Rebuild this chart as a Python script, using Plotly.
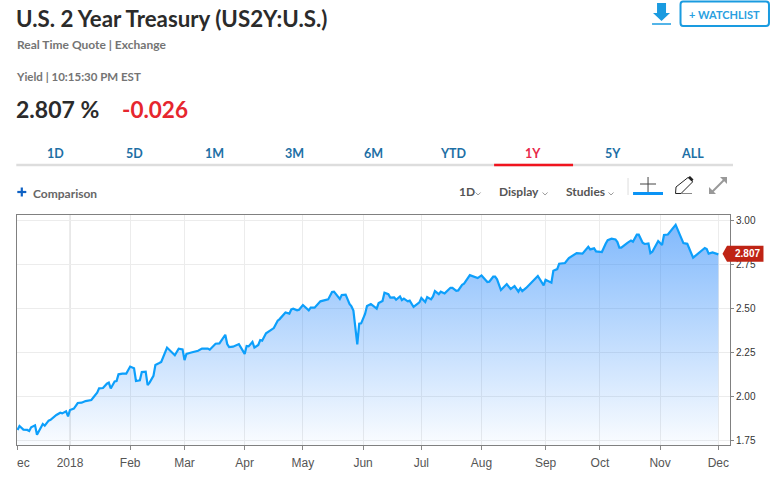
import plotly.graph_objects as go

# days of each month with a reading, and the yield
dec17_days = [5, 6, 8, 10, 11, 12, 14, 15, 18, 19, 21, 22, 25, 27, 28, 30, 31]
dec17_vals = [1.809, 1.831, 1.811, 1.809, 1.803, 1.824, 1.835, 1.782, 1.843, 1.833, 1.862, 1.866, 1.894, 1.907, 1.903, 1.915, 1.886]
jan_days = [1, 3, 5, 7, 9, 12, 14, 15, 16, 18, 20, 21, 22, 24, 25, 26, 28, 30]
jan_vals = [1.922, 1.930, 1.962, 1.964, 1.973, 1.979, 2.008, 2.021, 2.045, 2.047, 2.072, 2.078, 2.045, 2.085, 2.087, 2.125, 2.129, 2.129]
feb_days = [1, 3, 4, 6, 7, 9, 10, 11, 13, 14, 16, 17, 20, 24, 26, 28]
feb_vals = [2.169, 2.159, 2.087, 2.091, 2.138, 2.140, 2.064, 2.078, 2.116, 2.178, 2.189, 2.195, 2.277, 2.233, 2.271, 2.267]
mar_days = [1, 2, 4, 7, 8, 10, 13, 14, 17, 19, 22, 23, 24, 26, 29]
mar_vals = [2.206, 2.241, 2.248, 2.258, 2.259, 2.271, 2.271, 2.265, 2.299, 2.301, 2.350, 2.297, 2.280, 2.282, 2.297]
apr_days = [1, 2, 3, 5, 6, 8, 9, 10, 12, 14, 16, 18, 19, 22, 24, 25, 26, 28, 29]
apr_vals = [2.241, 2.286, 2.284, 2.309, 2.277, 2.292, 2.320, 2.316, 2.358, 2.373, 2.388, 2.430, 2.439, 2.477, 2.470, 2.494, 2.498, 2.489, 2.492]
may_days = [1, 4, 5, 7, 10, 12, 14, 16, 17, 20, 21, 23, 25, 26, 27, 29, 30, 31]
may_vals = [2.519, 2.489, 2.504, 2.504, 2.540, 2.545, 2.551, 2.593, 2.595, 2.553, 2.576, 2.578, 2.525, 2.511, 2.487, 2.295, 2.413, 2.415]
jun_days = [2, 3, 5, 8, 9, 11, 12, 14, 15, 17, 18, 20, 21, 22, 24, 25, 27, 30]
jun_vals = [2.468, 2.513, 2.525, 2.498, 2.530, 2.542, 2.589, 2.581, 2.561, 2.563, 2.549, 2.568, 2.547, 2.555, 2.540, 2.544, 2.508, 2.534]
jul_days = [1, 3, 4, 6, 7, 8, 10, 11, 13, 16, 17, 19, 20, 22, 23, 26, 28, 30]
jul_vals = [2.559, 2.536, 2.564, 2.551, 2.568, 2.598, 2.581, 2.595, 2.585, 2.617, 2.617, 2.600, 2.602, 2.634, 2.640, 2.689, 2.682, 2.672]
aug_days = [1, 4, 5, 7, 8, 9, 11, 14, 16, 18, 20, 21, 22, 24, 30]
aug_vals = [2.687, 2.650, 2.652, 2.680, 2.680, 2.665, 2.604, 2.638, 2.610, 2.627, 2.595, 2.614, 2.598, 2.616, 2.684]
sep_days = [2, 3, 6, 7, 9, 10, 13, 15, 16, 19, 22, 25, 26, 28, 29]
sep_vals = [2.631, 2.663, 2.646, 2.714, 2.723, 2.754, 2.758, 2.786, 2.792, 2.814, 2.811, 2.850, 2.835, 2.841, 2.824]
oct_days = [2, 4, 5, 7, 9, 10, 11, 12, 14, 15, 17, 18, 20, 21, 23, 24, 26, 27, 28, 31]
oct_vals = [2.820, 2.869, 2.888, 2.896, 2.892, 2.877, 2.845, 2.845, 2.866, 2.871, 2.886, 2.879, 2.919, 2.919, 2.873, 2.866, 2.869, 2.814, 2.822, 2.883]
nov_days = [2, 3, 5, 9, 13, 15, 18, 21, 22, 24, 25, 26, 28]
nov_vals = [2.860, 2.917, 2.920, 2.975, 2.871, 2.867, 2.788, 2.816, 2.820, 2.843, 2.837, 2.811, 2.818]
dec18_days = [1]
dec18_vals = [2.807]

tick_dates = ['2017-12-05', '2018-01-01', '2018-02-01', '2018-03-01', '2018-04-01', '2018-05-01',
              '2018-06-01', '2018-07-01', '2018-08-01', '2018-09-03', '2018-10-01', '2018-11-01', '2018-12-01']
tick_labels = ['', '2018', 'Feb', 'Mar', 'Apr', 'May', 'Jun', 'Jul', 'Aug', 'Sep', 'Oct', 'Nov', 'Dec']
range_tabs = ['1D', '5D', '1M', '3M', '6M', 'YTD', '1Y', '5Y', 'ALL']
y_ticks = [1.75, 2.0, 2.25, 2.5, 2.75, 3.0]
y_labels = ['1.75', '2.00', '2.25', '2.50', '2.75', '3.00']

months = [('2017-12', dec17_days, dec17_vals), ('2018-01', jan_days, jan_vals), ('2018-02', feb_days, feb_vals),
          ('2018-03', mar_days, mar_vals), ('2018-04', apr_days, apr_vals), ('2018-05', may_days, may_vals),
          ('2018-06', jun_days, jun_vals), ('2018-07', jul_days, jul_vals), ('2018-08', aug_days, aug_vals),
          ('2018-09', sep_days, sep_vals), ('2018-10', oct_days, oct_vals), ('2018-11', nov_days, nov_vals),
          ('2018-12', dec18_days, dec18_vals)]
dates, yields = [], []
for month, days, vals in months:
    dates += [f'{month}-{d:02d}' for d in days]
    yields += vals

W, H = 773, 481
LEFT, RIGHT, TOP, BOTTOM = 16.7, 730, 215, 445
UI_FONT = 'Lato'
AXIS_FONT = 'Liberation Sans'


def px(x):
    return (x - LEFT) / (RIGHT - LEFT)


def py(y):
    return (BOTTOM - y) / (BOTTOM - TOP)


def text(s, x, y, size, color, anchor='left', weight=400, family=UI_FONT):
    return dict(text=s, x=px(x), y=py(y), xref='paper', yref='paper', xanchor=anchor, yanchor='middle',
                showarrow=False, borderpad=0, font=dict(size=size, color=color, family=family, weight=weight))


def line(x0, y0, x1, y1, color, width=1):
    return dict(type='line', xref='paper', yref='paper', x0=px(x0), y0=py(y0), x1=px(x1), y1=py(y1),
                line=dict(color=color, width=width))


def path(points, fill=None, color=None, width=0, close=True):
    d = 'M' + ' L'.join(f'{px(a):.5f},{py(b):.5f}' for a, b in points) + (' Z' if close else '')
    return dict(type='path', xref='paper', yref='paper', path=d, fillcolor=fill if fill else 'rgba(0,0,0,0)',
                line=dict(color=color if color else 'rgba(0,0,0,0)', width=width))


fig = go.Figure()
fig.add_trace(go.Scatter(
    x=dates, y=yields, mode='lines', line=dict(color='#0d9ffb', width=2.2), fill='tozeroy',
    fillgradient=dict(type='vertical', start=1.72, stop=2.98,
                      colorscale=[[0, 'rgba(30,130,250,0.02)'], [1, 'rgba(30,130,250,0.56)']]),
    showlegend=False, hoverinfo='skip'))

notes = [
    text('U.S. 2 Year Treasury (US2Y:U.S.)', 15, 18, 22.3, '#2b2b2b', weight=700),
    text('Real Time Quote | Exchange', 15.5, 44, 12, '#747474', weight=700),
    text('Yield | 10:15:30 PM EST', 15, 77, 11.5, '#747474', weight=700),
    text('2.807 %', 15, 109, 23, '#2b2b2b', weight=700),
    text('-0.026', 121, 109, 22.5, '#e6262e', weight=700),
    text('Comparison', 31.5, 193, 12, '#666666', weight=700),
    text('1D', 457.5, 192, 12, '#555555', weight=700),
    text('Display', 497.5, 192, 12, '#555555', weight=700),
    text('Studies', 564.5, 192, 12, '#555555', weight=700),
    text('+ WATCHLIST', 724.5, 14, 11, '#2a9fe0', 'center', weight=700),
    text('ec', 16, 463, 12, '#555555', family=AXIS_FONT),
    text('2.807', 748, 253.5, 10, '#ffffff', 'center', weight=700, family=AXIS_FONT),
]
for i, tab in enumerate(range_tabs):
    notes.append(text(tab, 55 + i * 79.65, 153, 12.5, '#e8294a' if tab == '1Y' else '#1d6fa5', 'center', weight=700))

shapes = [
    line(16, 165, 733, 165, '#dddddd', 2.5),
    line(494, 165, 573, 165, '#f0141e', 2.5),
    line(17, 192, 26, 192, '#0f62c4', 2.2),
    line(21.5, 187.5, 21.5, 196.5, '#0f62c4', 2.2),
    # download icon and watchlist button
    path([(657, 3), (666, 3), (666, 13), (670, 13), (661.5, 21), (653, 13), (657, 13)], fill='#1a9be0'),
    line(652, 24, 671, 24, '#1a9be0', 1.5),
    dict(type='path', xref='paper', yref='paper', line=dict(color='#1a9be0', width=2), fillcolor='rgba(0,0,0,0)',
         path=f'M{px(683)},{py(1.5)} L{px(766)},{py(1.5)} Q{px(769)},{py(1.5)} {px(769)},{py(4.5)} '
              f'L{px(769)},{py(23)} Q{px(769)},{py(26)} {px(766)},{py(26)} L{px(683)},{py(26)} '
              f'Q{px(680.5)},{py(26)} {px(680.5)},{py(23)} L{px(680.5)},{py(4.5)} Q{px(680.5)},{py(1.5)} {px(683)},{py(1.5)} Z'),
    # toolbar
    line(628, 178, 628, 195, '#dddddd', 1),
    line(640, 184, 656, 184, '#444444', 1),
    line(648, 177, 648, 193, '#444444', 1),
    line(633, 193.5, 663, 193.5, '#0a93f5', 3),
    path([(676, 187), (688, 177.5), (693, 181.5), (681, 193.5), (675.5, 193.5)], fill='#ffffff', color='#222222', width=1),
    path([(688, 177.5), (690, 176), (693.5, 179.5), (691.5, 181.5)], fill='#222222'),
    line(681, 193.5, 692, 193.5, '#888888', 1),
    line(711, 193, 725, 179, '#999999', 2),
    path([(709, 187), (709, 194), (716, 194)], fill='#999999'),
    path([(720, 177), (727, 177), (727, 184)], fill='#999999'),
    # last price tag
    path([(722.5, 253.7), (727, 245.7), (763.5, 245.7), (763.5, 261.7), (727, 261.7)], fill='#bf2415'),
]
# dropdown chevrons
for cx in [478, 545, 611]:
    shapes.append(path([(cx - 2.5, 192.5), (cx, 195), (cx + 2.5, 192.5)], color='#999999', width=1, close=False))

# the 2018 gridline is darker than the other ones
shapes.append(dict(type='line', xref='x', yref='paper', x0='2018-01-01', x1='2018-01-01', y0=0, y1=1,
                   line=dict(color='#cfcfcf', width=1), layer='below'))

fig.update_layout(
    width=W, height=H, autosize=False, paper_bgcolor='white', plot_bgcolor='white',
    margin=dict(l=LEFT, r=W - RIGHT, t=TOP, b=H - BOTTOM, pad=0),
    annotations=notes, shapes=shapes,
    xaxis=dict(type='date', range=['2017-12-04 17:00', '2018-12-07 00:00'], tickmode='array',
               tickvals=tick_dates, ticktext=tick_labels, ticks='outside', ticklen=4, tickcolor='#888888',
               showgrid=True, gridcolor='#ececec', gridwidth=1, showline=True, linecolor='#808080', mirror=True,
               tickfont=dict(family=AXIS_FONT, size=12, color='#555555'), zeroline=False, ticklabelstandoff=3),
    yaxis=dict(side='right', range=[1.7233, 3.0307], tickmode='array', tickvals=y_ticks, ticktext=y_labels,
               ticks='outside', ticklen=3, tickcolor='#888888', showgrid=True, gridcolor='#ececec', gridwidth=1,
               showline=True, linecolor='#808080', mirror=True, zeroline=False,
               tickfont=dict(family=AXIS_FONT, size=10, color='#333333')),
)

fig.write_html('out.html', config={'displayModeBar': False},
               post_script="document.body.style.margin='0';document.body.style.overflow='hidden';")
